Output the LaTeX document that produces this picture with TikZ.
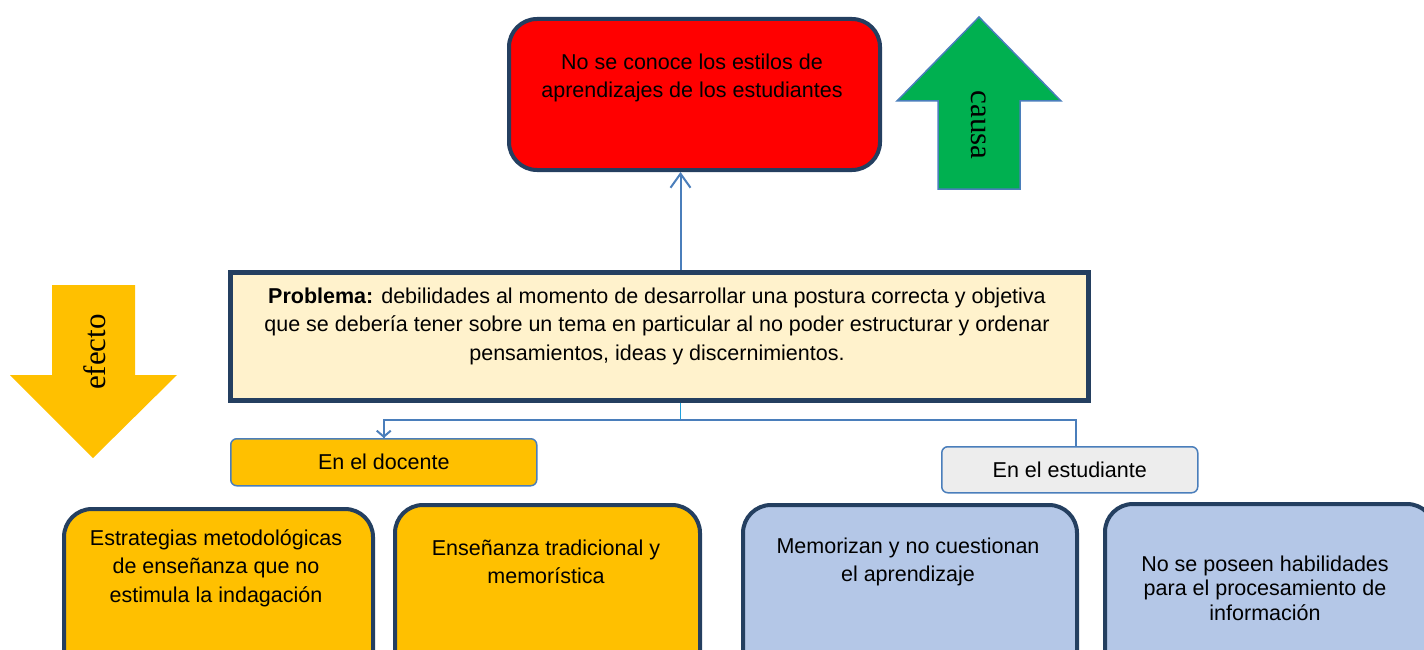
\documentclass[tikz,border=0pt]{standalone}
\usepackage{fontspec}
\setmainfont{Liberation Sans}
\newfontfamily\serifa{Liberation Serif}
\usetikzlibrary{arrows.meta, positioning, calc}
\definecolor{navy}{HTML}{243F60}
\definecolor{linkblue}{HTML}{4A7EBB}
\definecolor{skyline}{HTML}{1FA0DC}
\definecolor{gold}{HTML}{FFC000}
\definecolor{cream}{HTML}{FFF2CC}
\definecolor{leaf}{HTML}{00B050}
\definecolor{paleblue}{HTML}{B4C7E7}
\definecolor{palegray}{HTML}{EDEDED}

\begin{document}
\begin{tikzpicture}[x=1pt, y=-1pt,
    txt/.style={align=center, font=\fontsize{21.5}{28.5}\selectfont},
    bigbox/.style={draw=navy, line width=4pt, rounded corners=28pt, anchor=north west},
    smallbox/.style={draw=linkblue, line width=1.5pt, rounded corners=6pt, anchor=north west, txt},
    arrowlbl/.style={font=\serifa\fontsize{31}{31}\selectfont},
    link/.style={draw=linkblue, line width=2pt}]
    \useasboundingbox (0,0) rectangle (1424,650);
    \clip (0,0) rectangle (1424,650);
    % cause (top)
    \node[bigbox, fill=red, minimum width=371, minimum height=151] (causa) at (507,17) {};
    \node[txt] (causat) at (692,78) {No se conoce los estilos de\\aprendizajes de los estudiantes};
    \draw[fill=leaf, draw=linkblue, line width=1.5pt]
        (979,17) -- (1061,101) -- (1020,101) -- (1020,189) -- (938,189) -- (938,101) -- (897,101) -- cycle;
    \node[arrowlbl, rotate=-90] (causalbl) at (979,125) {causa};
    % effect arrow
    \fill[gold] (52,285) -- (135,285) -- (135,375) -- (177,375) -- (93,458) -- (10,375) -- (52,375) -- cycle;
    \node[arrowlbl, rotate=90] (efectolbl) at (95,352) {efecto};
    % problem
    \node[draw=navy, line width=5pt, fill=cream, minimum width=858, minimum height=128, anchor=north west] (prob) at (227.5,269.5) {};
    \node[txt] (probt) at (657,326) {\textbf{Problema:} debilidades al momento de desarrollar una postura correcta y objetiva\\
        que se debería tener sobre un tema en particular al no poder estructurar y ordenar\\
        pensamientos, ideas y discernimientos.};
    % groups
    \node[smallbox, fill=gold, minimum width=306, minimum height=47] (doc) at (230,438) {En el docente};
    \node[smallbox, fill=palegray, minimum width=256, minimum height=46] (est) at (941,446) {En el estudiante};
    % effects
    \node[bigbox, fill=gold, minimum width=309, minimum height=180] (d1) at (62,507) {};
    \node[txt] (d1t) at (216,568) {Estrategias metodológicas\\de enseñanza que no\\estimula la indagación};
    \node[bigbox, fill=gold, minimum width=305, minimum height=180] (d2) at (393,503) {};
    \node[txt] (d2t) at (546,562) {Enseñanza tradicional y\\memorística};
    \node[bigbox, fill=paleblue, minimum width=334, minimum height=180] (e1) at (741,503) {};
    \node[txt] (e1t) at (908,562) {Memorizan y no cuestionan\\el aprendizaje};
    \node[bigbox, fill=paleblue, minimum width=330, minimum height=180] (e2) at (1103,502) {};
    \node[txt, font=\fontsize{21.5}{24.5}\selectfont] (e2t) at (1265,588) {No se poseen habilidades\\para el procesamiento de\\información};
    % connectors
    \coordinate (j) at ($(prob.south)+(21.5,17)$);
    \draw[link, -{Straight Barb[length=14pt,width=20pt]}] (prob.north -| j) -- (causa.south -| j);
    \draw[draw=skyline, line width=1.5pt] (prob.south -| j) -- (j);
    \draw[link] (j) -| (doc.north);
    \draw[link, -{Straight Barb[length=6pt,width=14pt]}] (doc.north |- j) -- (doc.north);
    \draw[link] (j) -| ([xshift=6]est.north);
\end{tikzpicture}
\end{document}
